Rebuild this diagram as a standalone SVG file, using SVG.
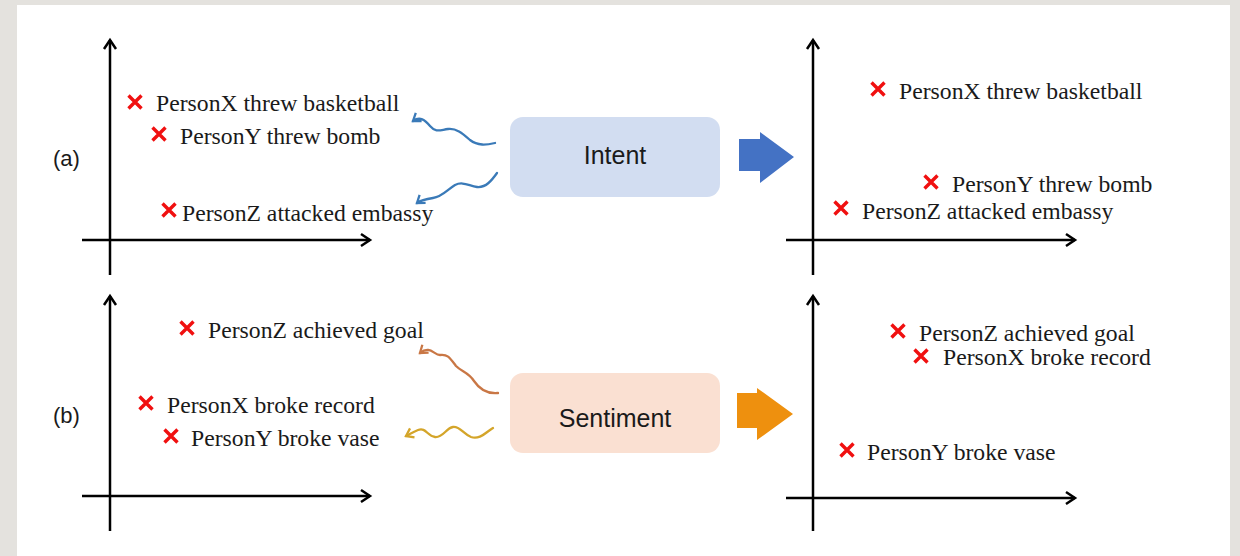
<svg xmlns="http://www.w3.org/2000/svg" xmlns:xlink="http://www.w3.org/1999/xlink" width="1240" height="556" viewBox="0 0 1240 556">
  <style>
    .axis { stroke: #000; stroke-width: 2.5; fill: none; }
    .lbl { font-family: "Liberation Serif", "Times New Roman", serif; font-size: 23.7px; fill: #1a1a1a; }
    .tag { font-family: "Liberation Sans", Arial, sans-serif; font-size: 22px; fill: #1a1a1a; }
    .boxtxt { font-family: "Liberation Sans", Arial, sans-serif; font-size: 25px; fill: #1a1a1a; text-anchor: middle; dominant-baseline: central; }
    .wave { fill: none; stroke-width: 2.3; stroke-linecap: round; }
  </style>
  <defs>
    <marker id="axhead" markerUnits="userSpaceOnUse" markerWidth="16" markerHeight="16" refX="12" refY="8" orient="auto">
      <path d="M3,2 L12,8 L3,14" fill="none" stroke="#000" stroke-width="2.5"/>
    </marker>
    <marker id="hBlue" markerUnits="userSpaceOnUse" markerWidth="14" markerHeight="14" refX="11" refY="7" orient="auto">
      <path d="M4,2 L11,7 L4,12" fill="none" stroke="#3a7ab8" stroke-width="2.3"/>
    </marker>
    <marker id="hRust" markerUnits="userSpaceOnUse" markerWidth="14" markerHeight="14" refX="11" refY="7" orient="auto">
      <path d="M4,2 L11,7 L4,12" fill="none" stroke="#c97745" stroke-width="2.3"/>
    </marker>
    <marker id="hGold" markerUnits="userSpaceOnUse" markerWidth="14" markerHeight="14" refX="11" refY="7" orient="auto">
      <path d="M4,2 L11,7 L4,12" fill="none" stroke="#d4a52a" stroke-width="2.3"/>
    </marker>
    <path id="xm" d="M-6.5,-6.5 L6.5,6.5 M6.5,-6.5 L-6.5,6.5" stroke="#f01010" stroke-width="3.4" fill="none"/>
  </defs>

  <!-- page frame -->
  <rect x="0" y="0" width="1240" height="556" fill="#e4e2de"/>
  <rect x="17" y="5" width="1213" height="551" fill="#ffffff"/>

  <!-- row labels -->
  <text class="tag" x="53" y="166">(a)</text>
  <text class="tag" x="53" y="423">(b)</text>

  <!-- coordinate axes -->
  <g id="axes">
    <path class="axis" d="M110,275 L110,40" marker-end="url(#axhead)"/>
    <path class="axis" d="M82,240 L370,240" marker-end="url(#axhead)"/>
    <path class="axis" d="M813,275 L813,40" marker-end="url(#axhead)"/>
    <path class="axis" d="M786,240 L1075,240" marker-end="url(#axhead)"/>
    <path class="axis" d="M110,531 L110,296" marker-end="url(#axhead)"/>
    <path class="axis" d="M82,496 L370,496" marker-end="url(#axhead)"/>
    <path class="axis" d="M813,531 L813,296" marker-end="url(#axhead)"/>
    <path class="axis" d="M786,498 L1075,498" marker-end="url(#axhead)"/>
  </g>

  <!-- points before the transform -->
  <g id="points-a-left">
    <use xlink:href="#xm" x="135" y="102"/><text class="lbl" x="156" y="111">PersonX threw basketball</text>
    <use xlink:href="#xm" x="159" y="134"/><text class="lbl" x="180" y="144">PersonY threw bomb</text>
    <use xlink:href="#xm" x="169" y="210"/><text class="lbl" x="182" y="221">PersonZ attacked embassy</text>
  </g>
  <g id="points-b-left">
    <use xlink:href="#xm" x="187" y="328"/><text class="lbl" x="208" y="338">PersonZ achieved goal</text>
    <use xlink:href="#xm" x="146" y="403"/><text class="lbl" x="167" y="413">PersonX broke record</text>
    <use xlink:href="#xm" x="171" y="436"/><text class="lbl" x="191" y="446">PersonY broke vase</text>
  </g>

  <!-- points after the transform -->
  <g id="points-a-right">
    <use xlink:href="#xm" x="878" y="89"/><text class="lbl" x="899" y="99">PersonX threw basketball</text>
    <use xlink:href="#xm" x="931" y="182"/><text class="lbl" x="952" y="192">PersonY threw bomb</text>
    <use xlink:href="#xm" x="841" y="208"/><text class="lbl" x="862" y="219">PersonZ attacked embassy</text>
  </g>
  <g id="points-b-right">
    <use xlink:href="#xm" x="898" y="331"/><text class="lbl" x="919" y="341">PersonZ achieved goal</text>
    <use xlink:href="#xm" x="921" y="356"/><text class="lbl" x="943" y="365">PersonX broke record</text>
    <use xlink:href="#xm" x="847" y="450"/><text class="lbl" x="867" y="460">PersonY broke vase</text>
  </g>

  <!-- attribute boxes -->
  <g id="intent">
    <rect x="510" y="117" width="210" height="80" rx="13" fill="#d2ddf1"/>
    <text class="boxtxt" x="615" y="155">Intent</text>
  </g>
  <g id="sentiment">
    <rect x="510" y="373" width="210" height="80" rx="13" fill="#fae0d2"/>
    <text class="boxtxt" x="615" y="418">Sentiment</text>
  </g>

  <!-- block arrows -->
  <g id="arrow-a">
    <path d="M739,139 L760,139 L760,132 L794,157 L760,183 L760,171 L739,171 Z" fill="#4472c4"/>
  </g>
  <g id="arrow-b">
    <path d="M737,393 L757,393 L757,388 L793,414 L757,440 L757,428 L737,428 Z" fill="#ee900e"/>
  </g>

  <!-- wavy connectors -->
  <g id="connectors">
    <path class="wave" stroke="#3a7ab8" d="M495,143 C486,145 478,146 470,140 C462,133 456,128 448,129 C440,130 436,133 430,126 C425,120 420,116 413,121" marker-end="url(#hBlue)"/>
    <path class="wave" stroke="#3a7ab8" d="M497,173 C492,180 486,188 477,187 C469,186 463,181 455,185 C447,190 442,197 433,198 C426,199 421,200 417,203" marker-end="url(#hBlue)"/>
    <path class="wave" stroke="#c97745" d="M498,393 C488,394 480,390 474,381 C468,372 462,372 456,366 C450,358 448,354 440,355 C434,355 430,345 420,353" marker-end="url(#hRust)"/>
    <path class="wave" stroke="#d4a52a" d="M493,428 C486,432 480,440 471,437 C463,434 460,426 453,427 C446,428 443,438 435,437 C427,436 426,427 418,430 C413,432 410,434 406,436" marker-end="url(#hGold)"/>
  </g>
</svg>
